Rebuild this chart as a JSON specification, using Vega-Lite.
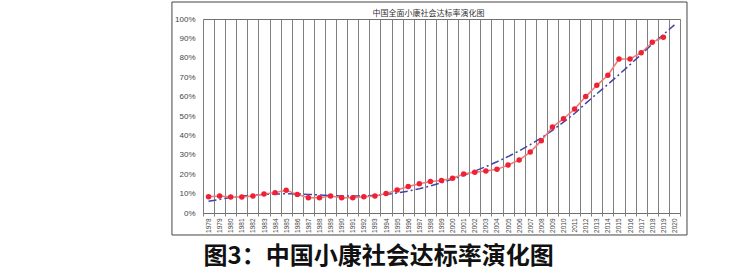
{
  "$schema": "https://vega.github.io/schema/vega-lite/v6.json",
  "width": 477,
  "height": 194,
  "autosize": "none",
  "padding": {"left": 203, "top": 19, "right": 70, "bottom": 57},
  "background": "white",
  "config": {
    "view": {"stroke": "#707070", "strokeWidth": 1},
    "axis": {"labelFont": "Liberation Sans", "labelColor": "#444444"},
    "axisY": {
      "values": [0, 10, 20, 30, 40, 50, 60, 70, 80, 90, 100],
      "labelExpr": "datum.value + '%'",
      "labelOverlap": false,
      "grid": true, "gridColor": "#808080", "domain": false, "ticks": false,
      "labelFontSize": 8, "labelPadding": 8, "title": null
    }
  },
  "title": {
    "text": "中国全面小康社会达标率演化图",
    "font": "Noto Sans CJK SC",
    "fontSize": 8,
    "fontWeight": "normal",
    "color": "#333333",
    "offset": -16,
    "dx": -13
  },
  "data": {
    "values": [
      {"year": 1978, "rate": 8.4, "trend": 6.0},
      {"year": 1979, "rate": 8.8, "trend": 7.0},
      {"year": 1980, "rate": 8.2, "trend": 8.0},
      {"year": 1981, "rate": 8.2, "trend": 8.7},
      {"year": 1982, "rate": 8.8, "trend": 9.2},
      {"year": 1983, "rate": 9.8, "trend": 9.6},
      {"year": 1984, "rate": 10.5, "trend": 9.8},
      {"year": 1985, "rate": 11.7, "trend": 9.9},
      {"year": 1986, "rate": 9.6, "trend": 9.8},
      {"year": 1987, "rate": 7.9, "trend": 9.6},
      {"year": 1988, "rate": 7.9, "trend": 9.3},
      {"year": 1989, "rate": 8.8, "trend": 9.0},
      {"year": 1990, "rate": 7.9, "trend": 8.8},
      {"year": 1991, "rate": 7.9, "trend": 8.7},
      {"year": 1992, "rate": 8.4, "trend": 8.8},
      {"year": 1993, "rate": 8.8, "trend": 9.1},
      {"year": 1994, "rate": 10.0, "trend": 9.6},
      {"year": 1995, "rate": 11.9, "trend": 10.3},
      {"year": 1996, "rate": 13.7, "trend": 11.3},
      {"year": 1997, "rate": 15.1, "trend": 12.5},
      {"year": 1998, "rate": 16.2, "trend": 14.0},
      {"year": 1999, "rate": 16.7, "trend": 15.6},
      {"year": 2000, "rate": 17.9, "trend": 17.5},
      {"year": 2001, "rate": 20.1, "trend": 19.5},
      {"year": 2002, "rate": 21.0, "trend": 21.6},
      {"year": 2003, "rate": 21.6, "trend": 23.9},
      {"year": 2004, "rate": 22.5, "trend": 26.4},
      {"year": 2005, "rate": 24.7, "trend": 29.1},
      {"year": 2006, "rate": 27.3, "trend": 32.0},
      {"year": 2007, "rate": 31.4, "trend": 35.2},
      {"year": 2008, "rate": 37.3, "trend": 38.7},
      {"year": 2009, "rate": 44.3, "trend": 42.6},
      {"year": 2010, "rate": 48.6, "trend": 46.8},
      {"year": 2011, "rate": 53.6, "trend": 51.3},
      {"year": 2012, "rate": 60.0, "trend": 56.5},
      {"year": 2013, "rate": 65.8, "trend": 61.5},
      {"year": 2014, "rate": 71.0, "trend": 66.3},
      {"year": 2015, "rate": 79.4, "trend": 71.3},
      {"year": 2016, "rate": 79.4, "trend": 76.5},
      {"year": 2017, "rate": 82.6, "trend": 81.8},
      {"year": 2018, "rate": 88.0, "trend": 87.0},
      {"year": 2019, "rate": 90.6, "trend": 92.0},
      {"year": 2020, "rate": null, "trend": 97.0}
    ]
  },
  "layer": [
    {
      "data": {"values": [{"box": 1}]},
      "mark": {"type": "rect", "fill": null, "stroke": "#444444", "strokeWidth": 1, "clip": false},
      "encoding": {
        "x": {"datum": 1974.7, "type": "quantitative", "scale": {"domain": [1977.5, 2020.5], "nice": false, "zero": false}, "axis": null},
        "x2": {"datum": 2021.13},
        "y": {"datum": 108.76, "type": "quantitative", "scale": {"domain": [0, 100], "nice": false}, "axis": null},
        "y2": {"datum": -11.34}
      }
    },
    {
      "layer": [
        {
          "mark": {"type": "line", "color": "#4444a8", "strokeWidth": 1.5, "strokeDash": [8, 3, 2, 3]},
          "encoding": {
            "x": {
              "field": "year", "type": "ordinal", "bandPosition": 0.5,
              "scale": {"type": "band", "paddingInner": 0, "paddingOuter": 0},
              "axis": {
                "tickBand": "extent", "grid": true, "gridColor": "#808080", "gridWidth": 1,
                "domain": false, "ticks": true, "tickColor": "#808080", "tickSize": 3,
                "labelAngle": 270, "labelFontSize": 6.5, "labelPadding": 2, "labelOverlap": false,
                "title": "图3：中国小康社会达标率演化图",
                "titleFont": "Noto Sans CJK SC", "titleFontSize": 24, "titleFontWeight": "bold",
                "titleColor": "#111111", "titleAnchor": "start", "titleAlign": "left", "titlePadding": 12
              }
            },
            "y": {
              "field": "trend", "type": "quantitative",
              "scale": {"domain": [0, 100], "nice": false},
              "axis": {"values": [0, 10, 20, 30, 40, 50, 60, 70, 80, 90, 100], "title": null}
            }
          }
        },
        {
          "mark": {"type": "line", "color": "#f07878", "strokeWidth": 1.5},
          "encoding": {
            "x": {"field": "year", "type": "ordinal", "bandPosition": 0.5},
            "y": {"field": "rate", "type": "quantitative", "axis": {"values": [0, 10, 20, 30, 40, 50, 60, 70, 80, 90, 100], "title": null}}
          }
        },
        {
          "mark": {"type": "circle", "color": "#ee2233", "size": 30, "opacity": 1},
          "encoding": {
            "x": {"field": "year", "type": "ordinal", "bandPosition": 0.5},
            "y": {"field": "rate", "type": "quantitative", "axis": {"values": [0, 10, 20, 30, 40, 50, 60, 70, 80, 90, 100], "title": null}}
          }
        }
      ]
    }
  ],
  "resolve": {"scale": {"x": "independent"}, "axis": {"x": "independent", "y": "independent"}}
}
